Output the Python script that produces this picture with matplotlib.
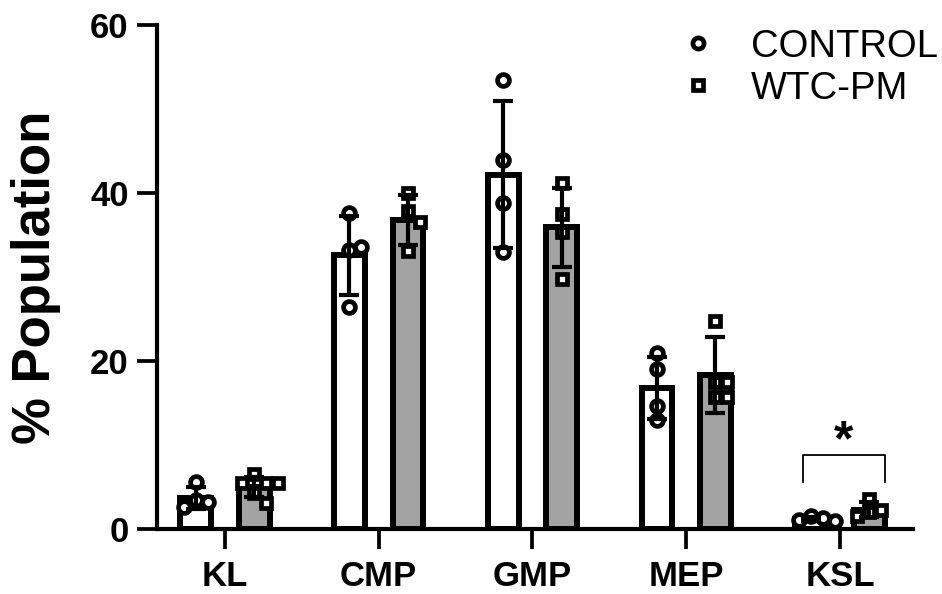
import matplotlib
matplotlib.use('Agg')
import matplotlib.pyplot as plt
from matplotlib.lines import Line2D

plt.rcParams['font.family'] = ['Liberation Sans', 'DejaVu Sans']

# values
populations = ['KL', 'CMP', 'GMP', 'MEP', 'KSL']
group_names = ['CONTROL', 'WTC-PM']

control_mean = [3.7, 32.6, 42.2, 16.8, 1.2]
control_sd = [1.3, 4.7, 8.7, 3.7, 0.25]
wtc_mean = [5.0, 36.8, 35.9, 18.3, 2.3]
wtc_sd = [1.2, 3.0, 4.7, 4.5, 0.9]

control_points = [
    [5.6, 3.4, 3.2, 2.6],
    [37.6, 33.2, 33.6, 26.4],
    [53.5, 43.9, 38.8, 33.0],
    [20.9, 19.1, 14.6, 13.0],
    [1.5, 1.3, 1.1, 0.9],
]
wtc_points = [
    [6.6, 5.5, 5.5, 5.5, 4.3, 3.1],
    [40.0, 37.8, 36.6, 33.1],
    [41.2, 37.5, 35.3, 29.8],
    [24.8, 17.5, 17.5, 15.75, 15.75],
    [3.6, 2.3, 2.0, 1.5],
]

y_ticks = [0, 20, 40, 60]
sig_index = 4
sig_text = '*'

fig = plt.figure(figsize=(9.42, 5.94), dpi=100)
ax = fig.add_axes([157 / 942, 1 - 529 / 594, (913 - 157) / 942, (529 - 25) / 594])
ax.set_xlim(-0.442, 4.475)
ax.set_ylim(0, 60)

offset = 0.19
width = 0.2
px_x = (913 - 157) / (4.475 + 0.442)
px_y = (529 - 25) / 60.0


def swarm(values, step=12, dmin=12):
    placed = []
    out = []
    cands = [0] + [s * i for i in range(1, 8) for s in (1, -1)]
    for v in values:
        for c in cands:
            cx = c * step
            if all((cx - ox) ** 2 + ((v - oy) * px_y) ** 2 >= dmin ** 2 for ox, oy in placed):
                break
        placed.append((cx, v))
        out.append(cx / px_x)
    return out


groups = [
    (control_mean, control_sd, control_points, -offset, 'white', 'o', 8.5),
    (wtc_mean, wtc_sd, wtc_points, offset, '#a3a3a3', 's', 7.5),
]

for means, sds, pts, off, fill, mk, ms in groups:
    xs = [i + off for i in range(len(populations))]
    ax.bar(xs, means, width=width, color=fill, edgecolor='black', linewidth=4.3, zorder=2)
    for x, vals in zip(xs, pts):
        dx = swarm(vals)
        ax.plot([x + d for d in dx], vals, ls='none', marker=mk, ms=ms,
                mfc='white', mec='black', mew=3.4, zorder=3, clip_on=False)
    ax.errorbar(xs, means, yerr=sds, fmt='none', ecolor='black',
                elinewidth=3, capsize=7, capthick=3, zorder=4)

# significance bracket
x1 = sig_index - offset - 0.053
x2 = sig_index + offset + 0.103
ax.plot([x1, x1, x2, x2], [5.6, 8.8, 8.8, 5.6], color='black', lw=1.3, zorder=5)
ax.text((x1 + x2) / 2, 10.3, sig_text, ha='center', va='center',
        fontsize=36, fontweight='bold')

ax.spines['top'].set_visible(False)
ax.spines['right'].set_visible(False)
for s in ['left', 'bottom']:
    ax.spines[s].set_linewidth(3)
    ax.spines[s].set_zorder(6)

ax.set_xticks(range(len(populations)))
ax.set_xticklabels(populations)
ax.set_yticks(y_ticks)
ax.tick_params(axis='both', length=14.4, width=2.7, labelsize=25, direction='out')
ax.tick_params(axis='y', pad=6)
ax.tick_params(axis='x', pad=8)
for lab in ax.get_xticklabels() + ax.get_yticklabels():
    lab.set_fontweight('bold')

ax.set_ylabel('% Population', fontsize=38, fontweight='bold')
ax.yaxis.set_label_coords(-0.127, 0.5)

handles = [
    Line2D([], [], ls='none', marker='o', ms=8.0, mfc='white', mec='black', mew=3.4),
    Line2D([], [], ls='none', marker='s', ms=7.0, mfc='white', mec='black', mew=3.4),
]
ax.legend(handles, group_names, loc='upper right', bbox_to_anchor=(0.996, 0.952),
          bbox_transform=fig.transFigure, frameon=False, fontsize=27.5,
          handlelength=1.0, handletextpad=0.9, labelspacing=0.16,
          borderpad=0, borderaxespad=0)

fig.savefig('out.png', dpi=100)
